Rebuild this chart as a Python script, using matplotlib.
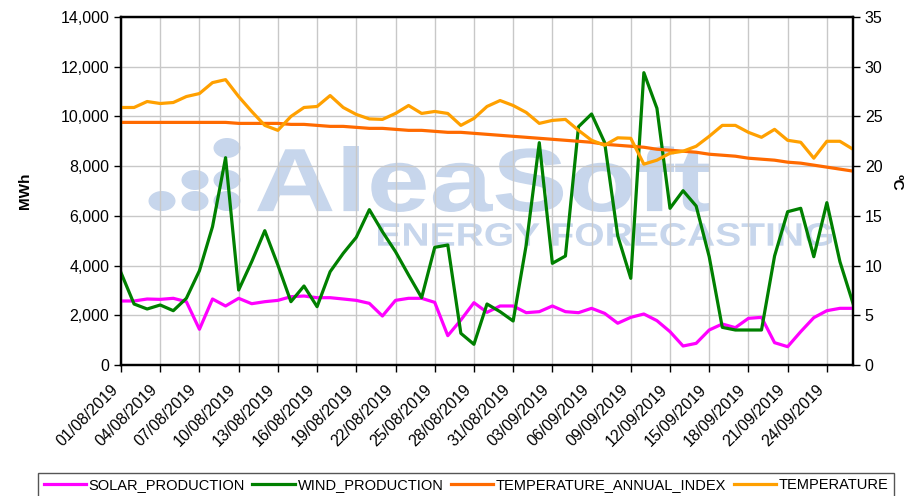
import numpy as np
import pandas as pd
import matplotlib
matplotlib.use("Agg")
import matplotlib.pyplot as plt
import matplotlib.ticker as ticker
from matplotlib.textpath import TextPath
from matplotlib.patches import PathPatch, Ellipse
from matplotlib.font_manager import FontProperties
from matplotlib.transforms import Affine2D

plt.rcParams["font.family"] = ["Liberation Sans", "DejaVu Sans"]

# --- data (daily, 01/08/2019 .. 26/09/2019) ---------------------------------
dates = pd.date_range("2019-08-01", periods=57, freq="D")

solar_production = [
    2575, 2575, 2655, 2640, 2683, 2547, 1436, 2655, 2374, 2683,
    2466, 2547, 2600, 2748, 2775, 2708, 2708, 2655, 2600, 2480,
    1971, 2600, 2683, 2683, 2520, 1180, 1810, 2507, 2119, 2374,
    2374, 2105, 2145, 2374, 2145, 2105, 2280, 2078, 1680, 1917,
    2052, 1784, 1341, 764, 871, 1408, 1649, 1502, 1877, 1917,
    898, 737, 1341, 1904, 2185, 2280, 2280,
]
wind_production = [
    3714, 2454, 2253, 2414, 2185, 2683, 3794, 5564, 8340, 3017,
    4156, 5403, 4023, 2547, 3178, 2346, 3754, 4492, 5137, 6250,
    5363, 4559, 3621, 2708, 4733, 4828, 1274, 832, 2454, 2145,
    1770, 4828, 8944, 4090, 4385, 9587, 10098, 8950, 5200, 3487,
    11760, 10327, 6304, 7012, 6397, 4357, 1515, 1408, 1408, 1408,
    4385, 6167, 6304, 4357, 6531, 4156, 2480,
]
temperature_annual_index = [
    24.4, 24.4, 24.4, 24.4, 24.4, 24.4, 24.4, 24.4, 24.4, 24.3,
    24.3, 24.3, 24.3, 24.2, 24.2, 24.1, 24.0, 24.0, 23.9, 23.8,
    23.8, 23.7, 23.6, 23.6, 23.5, 23.4, 23.4, 23.3, 23.2, 23.1,
    23.0, 22.9, 22.8, 22.7, 22.6, 22.5, 22.4, 22.2, 22.1, 22.0,
    21.9, 21.7, 21.6, 21.5, 21.4, 21.2, 21.1, 21.0, 20.8, 20.7,
    20.6, 20.4, 20.3, 20.1, 19.9, 19.7, 19.5,
]
temperature = [
    25.9, 25.9, 26.5, 26.3, 26.4, 27.0, 27.3, 28.4, 28.7, 27.0,
    25.5, 24.1, 23.6, 25.0, 25.9, 26.0, 27.1, 25.9, 25.2, 24.75,
    24.7, 25.3, 26.1, 25.3, 25.5, 25.3, 24.1, 24.8, 26.0, 26.6,
    26.1, 25.4, 24.3, 24.6, 24.7, 23.6, 22.6, 22.1, 22.85, 22.8,
    20.2, 20.6, 21.3, 21.5, 22.0, 23.0, 24.1, 24.1, 23.4, 22.9,
    23.7, 22.6, 22.4, 20.8, 22.5, 22.5, 21.7,
]

x = np.arange(len(dates))
tick_pos = x[::3][:19]
tick_labels = [d.strftime("%d/%m/%Y") for d in dates[tick_pos]]

# --- figure -------------------------------------------------------------------
W, H = 905, 496
fig = plt.figure(figsize=(W / 100, H / 100), dpi=100)
ax = fig.add_axes([121 / W, 1 - 365 / H, (853 - 121) / W, (365 - 17) / H])
ax2 = ax.twinx()

# watermark (AleaSoft logo, drawn under the grid)
wm_color = "#c7d6ec"
def fitted_text(s, box, weight="bold"):
    tp = TextPath((0, 0), s, size=1, prop=FontProperties(family="Liberation Sans", weight=weight))
    e = tp.get_extents()
    x0, y0, x1, y1 = box  # pixel box, top-left origin
    fx0, fx1 = x0 / W, x1 / W
    fy0, fy1 = 1 - y1 / H, 1 - y0 / H
    tr = (Affine2D().translate(-e.x0, -e.y0)
          .scale((fx1 - fx0) / e.width, (fy1 - fy0) / e.height)
          .translate(fx0, fy0) + fig.transFigure)
    p = PathPatch(tp, facecolor=wm_color, edgecolor="none", transform=tr, zorder=0.1)
    ax.add_patch(p)

fitted_text("AleaSoft", (257, 146, 710, 212))
fitted_text("ENERGY FORECASTING", (378, 223, 832, 246))
for cx, cy in [(227, 148), (195, 180), (227, 180), (162, 201), (195, 201), (227, 201)]:
    ax.add_patch(Ellipse((cx / W, 1 - cy / H), 27 / W, 20 / H, facecolor=wm_color,
                         edgecolor="none", transform=fig.transFigure, zorder=0.1))

lw = 2.3
l1, = ax.plot(x, solar_production, color="#ff00ff", lw=lw, label="SOLAR_PRODUCTION", zorder=3)
l2, = ax.plot(x, wind_production, color="#008000", lw=lw, label="WIND_PRODUCTION", zorder=3)
l3, = ax2.plot(x, temperature_annual_index, color="#ff6a00", lw=lw, label="TEMPERATURE_ANNUAL_INDEX")
l4, = ax2.plot(x, temperature, color="#ffa000", lw=lw, label="TEMPERATURE")

ax.set_xlim(0, len(x) - 1)
ax.set_ylim(0, 14000)
ax2.set_ylim(0, 35)
ax.set_yticks(np.arange(0, 14001, 2000))
ax.yaxis.set_major_formatter(ticker.StrMethodFormatter("{x:,.0f}"))
ax2.set_yticks(np.arange(0, 36, 5))

ax.set_xticks(tick_pos)
ax.set_xticklabels(tick_labels, rotation=45, ha="right", va="top")

ax.set_axisbelow(True)
ax.grid(True, color="#c8c8c8", lw=1.0)

for a in (ax, ax2):
    for sp in a.spines.values():
        sp.set_linewidth(1.6)
        sp.set_color("black")
    a.tick_params(direction="out", length=5, width=1, labelsize=11.5, colors="black")
ax.tick_params(axis="x", pad=7)

fig.text(25 / W, 1 - 191 / H, "MWh", rotation=90, ha="center", va="center",
         fontsize=11, fontweight="bold")
fig.text(897 / W, 1 - 182 / H, "ºC", rotation=270, ha="center", va="center",
         fontsize=11, fontweight="bold")

leg = fig.legend(handles=[l1, l2, l3, l4], loc="upper center", ncol=4,
                 bbox_to_anchor=(0.515, 1 - 473 / H), fontsize=10.5, frameon=True,
                 fancybox=False, framealpha=1, edgecolor="#555555", borderaxespad=0,
                 handlelength=2.9, handletextpad=0.2, columnspacing=0.5, borderpad=0.35)
leg.get_frame().set_linewidth(1.0)

fig.savefig("out.png", dpi=100)
